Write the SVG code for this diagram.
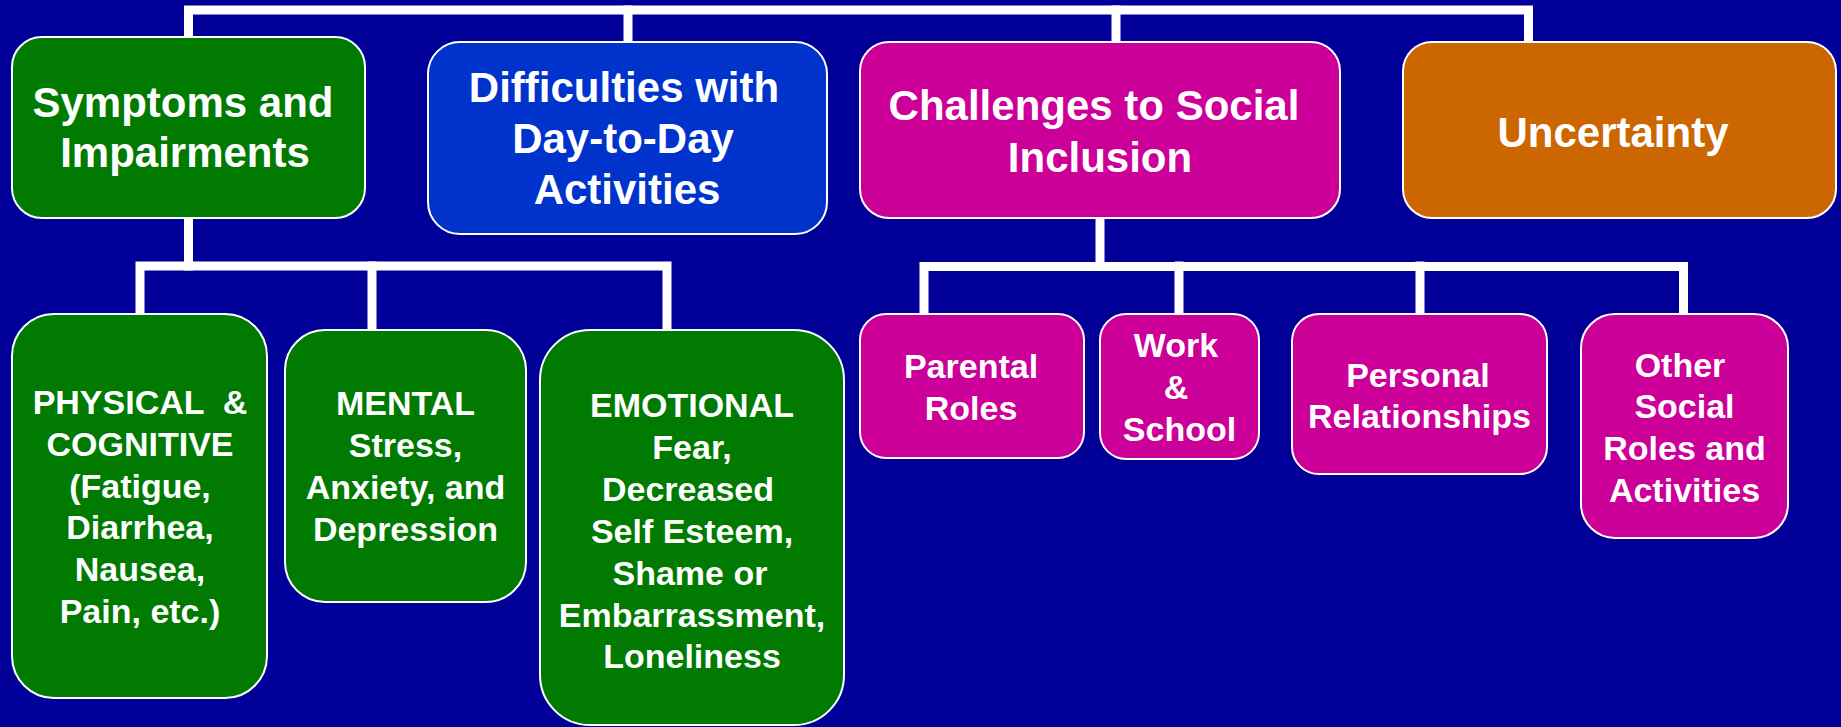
<svg xmlns="http://www.w3.org/2000/svg" width="1841" height="727" viewBox="0 0 1841 727">
<style>
.bg{fill:#000099}
.box{stroke:#ffffff;stroke-width:2}
.green{fill:#007A00}
.blue{fill:#0033CC}
.mag{fill:#CC0099}
.orange{fill:#CC6600}
.conn{stroke:#ffffff;stroke-width:9;fill:none;stroke-linecap:square}
text{font-family:"Liberation Sans",Arial,sans-serif;font-weight:bold;fill:#ffffff;text-anchor:middle}
.t42{font-size:42px}
.t34{font-size:34px}
</style>
<rect class="bg" x="0" y="0" width="1841" height="727"/>
<g id="connectors">
<polyline class="conn" points="188.5,37 188.5,10 1528.5,10 1528.5,42"/>
<line class="conn" x1="628" y1="10" x2="628" y2="42"/>
<line class="conn" x1="1116" y1="10" x2="1116" y2="42"/>
<line class="conn" x1="188.5" y1="218" x2="188.5" y2="266"/>
<polyline class="conn" points="140,314 140,266 667,266 667,330"/>
<line class="conn" x1="372" y1="266" x2="372" y2="330"/>
<line class="conn" x1="1100" y1="218" x2="1100" y2="266"/>
<polyline class="conn" points="924,314 924,266.5 1683.5,266.5 1683.5,314"/>
<line class="conn" x1="1179" y1="266" x2="1179" y2="314"/>
<line class="conn" x1="1420" y1="266" x2="1420" y2="314"/>
</g>
<g id="symptoms">
<rect class="box green" x="12" y="37" width="353" height="181" rx="30"/>
<text class="t42" x="183" y="117">Symptoms and</text>
<text class="t42" x="185" y="167">Impairments</text>
</g>
<g id="difficulties">
<rect class="box blue" x="428" y="42" width="399" height="192" rx="32"/>
<text class="t42" x="624" y="102">Difficulties with</text>
<text class="t42" x="623" y="153">Day-to-Day</text>
<text class="t42" x="627" y="204">Activities</text>
</g>
<g id="challenges">
<rect class="box mag" x="860" y="42" width="480" height="176" rx="29"/>
<text class="t42" x="1094" y="120">Challenges to Social</text>
<text class="t42" x="1100" y="172">Inclusion</text>
</g>
<g id="uncertainty">
<rect class="box orange" x="1403" y="42" width="433" height="176" rx="29"/>
<text class="t42" x="1613" y="147">Uncertainty</text>
</g>
<g id="physical">
<rect class="box green" x="12" y="314" width="255" height="384" rx="42"/>
<text class="t34" x="140" y="414" xml:space="preserve">PHYSICAL  &amp;</text>
<text class="t34" x="140" y="456">COGNITIVE</text>
<text class="t34" x="140" y="498">(Fatigue,</text>
<text class="t34" x="140" y="539">Diarrhea,</text>
<text class="t34" x="140" y="581">Nausea,</text>
<text class="t34" x="140" y="623">Pain, etc.)</text>
</g>
<g id="mental">
<rect class="box green" x="285" y="330" width="241" height="272" rx="40"/>
<text class="t34" x="405.5" y="415">MENTAL</text>
<text class="t34" x="405.5" y="457">Stress,</text>
<text class="t34" x="405.5" y="499">Anxiety, and</text>
<text class="t34" x="405.5" y="541">Depression</text>
</g>
<g id="emotional">
<rect class="box green" x="540" y="330" width="304" height="395" rx="50"/>
<text class="t34" x="692" y="417">EMOTIONAL</text>
<text class="t34" x="692" y="459">Fear,</text>
<text class="t34" x="688" y="501">Decreased</text>
<text class="t34" x="692" y="543">Self Esteem,</text>
<text class="t34" x="690" y="585">Shame or</text>
<text class="t34" x="692" y="627">Embarrassment,</text>
<text class="t34" x="692" y="668">Loneliness</text>
</g>
<g id="parental">
<rect class="box mag" x="860" y="314" width="224" height="144" rx="26"/>
<text class="t34" x="971" y="378">Parental</text>
<text class="t34" x="971" y="420">Roles</text>
</g>
<g id="work">
<rect class="box mag" x="1100" y="314" width="159" height="145" rx="26"/>
<text class="t34" x="1176" y="357">Work</text>
<text class="t34" x="1176" y="399">&amp;</text>
<text class="t34" x="1179.5" y="441">School</text>
</g>
<g id="personal">
<rect class="box mag" x="1292" y="314" width="255" height="160" rx="27"/>
<text class="t34" x="1418" y="387">Personal</text>
<text class="t34" x="1419.5" y="428">Relationships</text>
</g>
<g id="other">
<rect class="box mag" x="1581" y="314" width="207" height="224" rx="34"/>
<text class="t34" x="1680" y="377">Other</text>
<text class="t34" x="1684.5" y="418">Social</text>
<text class="t34" x="1684.5" y="460">Roles and</text>
<text class="t34" x="1684.5" y="502">Activities</text>
</g>
</svg>
